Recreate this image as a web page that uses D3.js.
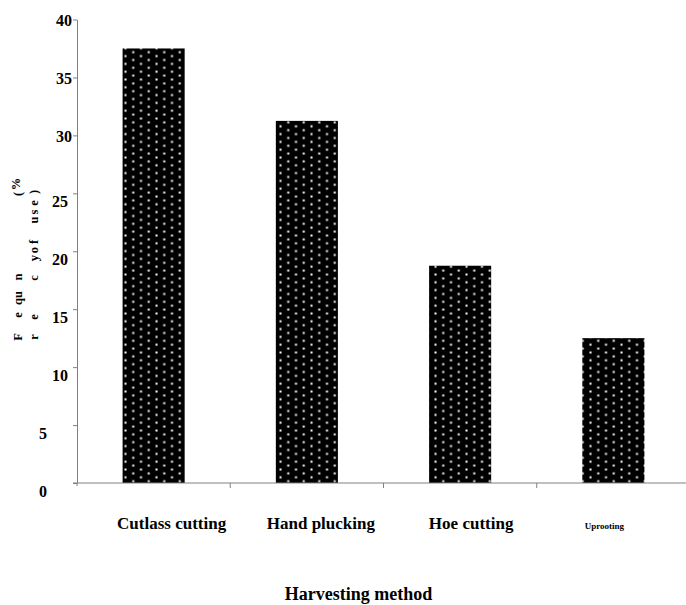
<!DOCTYPE html>
<html>
<head>
<meta charset="utf-8">
<script src="https://cdn.jsdelivr.net/npm/d3@7"></script>
<style>
  body { margin: 0; background: #fff; }
  text { font-family: "Liberation Serif", "Times New Roman", serif; font-weight: bold; fill: #000; }
</style>
</head>
<body>
<svg id="chart" width="686" height="605"></svg>
<script>
// ***** Data ***** //
var methods = ['Cutlass cutting', 'Hand plucking', 'Hoe cutting', 'Uprooting'];
var usePct = [37.5, 31.25, 18.75, 12.5];
var yTicks = [0, 5, 10, 15, 20, 25, 30, 35, 40];

var svg = d3.select('#chart'),
    width = +svg.attr('width'),
    height = +svg.attr('height');

// ***** Scales ***** //
var y = d3.scaleLinear().domain([0, 40]).range([483, 19.5]);
var x = d3.scaleBand().domain(methods).range([77, 690])
    .paddingInner(0.595).paddingOuter(0.2975);

// ***** Dotted fill ***** //
var pat = svg.append('defs').append('pattern')
    .attr('id', 'dots')
    .attr('patternUnits', 'userSpaceOnUse')
    .attr('width', 15.5).attr('height', 7.8);
pat.append('rect').attr('width', 15.5).attr('height', 7.8).attr('fill', '#000');
pat.append('rect').attr('x', 0.5).attr('y', 0.5).attr('width', 2).attr('height', 2).attr('fill', '#fff');
pat.append('rect').attr('x', 8.25).attr('y', 4.4).attr('width', 2).attr('height', 2).attr('fill', '#fff');

// ***** Bars ***** //
svg.append('g').selectAll('rect')
    .data(methods)
    .enter()
    .append('rect')
    .attr('x', d => x(d))
    .attr('width', x.bandwidth())
    .attr('y', (d, i) => y(usePct[i]))
    .attr('height', (d, i) => y(0) - y(usePct[i]))
    .attr('fill', 'url(#dots)');

// ***** Y axis ***** //
var yAxis = svg.append('g')
    .attr('transform', 'translate(77,0)')
    .call(d3.axisLeft(y).tickValues(yTicks).tickSize(4).tickSizeOuter(0).tickFormat(''));
yAxis.select('.domain').attr('stroke', '#808080');
yAxis.selectAll('.tick line').attr('stroke', '#808080');

// labels sit a little off their ticks, like the original export
svg.append('g').selectAll('text')
    .data(yTicks)
    .enter()
    .append('text')
    .attr('x', d => d >= 30 ? 72 : (d >= 10 ? 68 : 47))
    .attr('y', d => y(d) + (d >= 30 ? 1 : 8.5))
    .attr('dy', '0.35em')
    .attr('text-anchor', 'end')
    .style('font-size', '16px')
    .text(d => d);

// ***** X axis ***** //
svg.append('line')
    .attr('x1', 73).attr('x2', width)
    .attr('y1', y(0)).attr('y2', y(0))
    .attr('stroke', '#808080');
svg.append('line')
    .attr('x1', 77).attr('x2', 77)
    .attr('y1', y(0)).attr('y2', y(0) + 3)
    .attr('stroke', '#808080');

svg.append('g').selectAll('line')
    .data(methods.slice(0, -1))
    .enter()
    .append('line')
    .attr('x1', d => x(d) + x.bandwidth() / 2 + x.step() / 2)
    .attr('x2', d => x(d) + x.bandwidth() / 2 + x.step() / 2)
    .attr('y1', y(0)).attr('y2', y(0) + 5)
    .attr('stroke', '#808080');

var labelShift = [18, 14, 11, -9];
svg.append('g').selectAll('text')
    .data(methods)
    .enter()
    .append('text')
    .attr('x', (d, i) => x(d) + x.bandwidth() / 2 + labelShift[i])
    .attr('y', 529)
    .attr('text-anchor', 'middle')
    .style('font-size', (d, i) => i == 3 ? '9px' : '17px')
    .text(d => d);

svg.append('text')
    .attr('x', 358.5)
    .attr('y', 600)
    .attr('text-anchor', 'middle')
    .style('font-size', '18px')
    .text('Harvesting method');

// ***** Y title (broken up, as in the source) ***** //
var titleBits = [
    {t: 'F', x: 22, y: 337}, {t: 'e', x: 22, y: 315}, {t: 'qu', x: 22, y: 298},
    {t: 'n', x: 22, y: 277}, {t: '(', x: 22, y: 194}, {t: '%', x: 20, y: 184},
    {t: 'r', x: 38, y: 337}, {t: 'e', x: 38, y: 317}, {t: 'c', x: 38, y: 278},
    {t: 'y', x: 38, y: 258}, {t: 'o', x: 38, y: 250}, {t: 'f', x: 38, y: 242},
    {t: 'u', x: 38, y: 220}, {t: 's', x: 38, y: 212}, {t: 'e', x: 38, y: 203},
    {t: ')', x: 38, y: 192}
];
svg.append('g').selectAll('text')
    .data(titleBits)
    .enter()
    .append('text')
    .attr('transform', d => 'translate(' + d.x + ',' + d.y + ') rotate(-90)')
    .attr('text-anchor', 'middle')
    .style('font-size', '12.5px')
    .text(d => d.t);
</script>
</body>
</html>
